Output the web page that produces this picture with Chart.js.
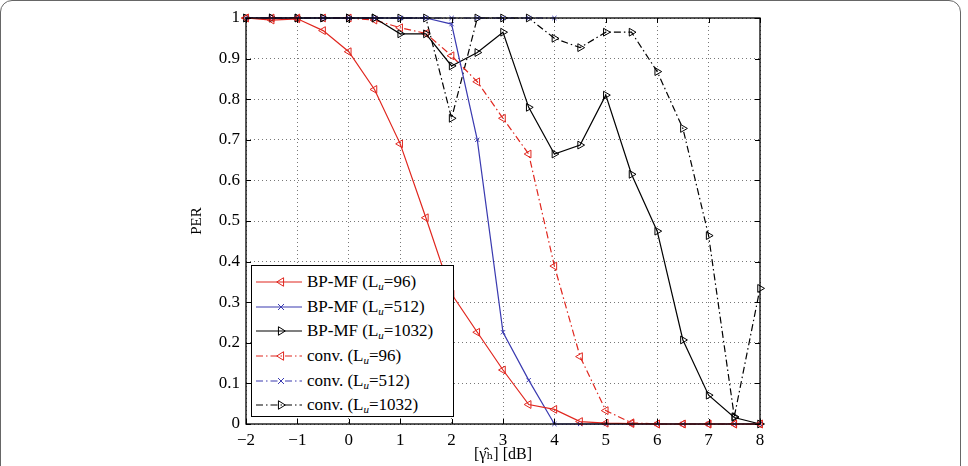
<!DOCTYPE html>
<html>
<head>
<meta charset="utf-8">
<script src="https://cdn.jsdelivr.net/npm/chart.js@4/dist/chart.umd.min.js"></script>
<style>
  html, body { margin: 0; padding: 0; background: #fff; overflow: hidden; }
  #wrap { position: relative; width: 968px; height: 466px; }
  #frame { position: absolute; left: 0; top: 0; width: 961px; height: 520px; border: 1.5px solid #666; border-radius: 12px; box-sizing: border-box; pointer-events: none; }
  #legend { position: absolute; left: 251px; top: 265px; width: 203px; height: 152px; box-sizing: border-box; border: 1px solid #000; background: #fff; padding-top: 4px; font-family: "Liberation Serif", "DejaVu Serif", serif; font-size: 17px; color: #000; }
  .row { height: 24.6px; display: flex; align-items: center; white-space: nowrap; }
  .row svg { width: 50px; height: 14px; margin-left: 2px; flex: none; }
  .row span { margin-left: 3px; }
  sub { font-size: 11px; font-style: italic; vertical-align: -3px; line-height: 0; }
</style>
</head>
<body>
<div id="wrap">
  <canvas id="c" width="968" height="466"></canvas>
  <div id="legend"></div>
  <div id="frame"></div>
</div>
<script>
// ----- data -----
const xValues = [-2,-1.5,-1,-0.5,0,0.5,1,1.5,2,2.5,3,3.5,4,4.5,5,5.5,6,6.5,7,7.5,8];
const bpmf96   = [1,0.995,0.998,0.969,0.917,0.824,0.690,0.508,0.320,0.226,0.133,0.048,0.036,0.006,0.002,0.001,0,0,0,0,0];
const bpmf512  = [1,1,1,1,1,1,1,1,0.985,0.700,0.226,0.108,0,0,0,0,0,0,0,0,0];
const bpmf1032 = [1,1,1,1,1,1,0.961,0.961,0.882,0.915,0.965,0.780,0.665,0.687,0.810,0.615,0.475,0.207,0.071,0.016,0];
const conv96   = [1,1,1,1,1,0.995,0.976,0.962,0.907,0.843,0.753,0.665,0.389,0.166,0.033,0.003,0,0,0,0,0];
const conv512  = [1,1,1,1,1,1,1,1,1,1,1,1,1,null,null,null,null,null,null,null,null];
const conv1032 = [1,1,1,1,1,1,1,1,0.753,1,1,1,0.950,0.927,0.965,0.965,0.868,0.728,0.464,0.018,0.334];
const seriesLabels = ["BP-MF (L<sub>u</sub>=96)","BP-MF (L<sub>u</sub>=512)","BP-MF (L<sub>u</sub>=1032)",
                      "conv. (L<sub>u</sub>=96)","conv. (L<sub>u</sub>=512)","conv. (L<sub>u</sub>=1032)"];
const xTicks = [-2,-1,0,1,2,3,4,5,6,7,8];
const yTicks = [0,0.1,0.2,0.3,0.4,0.5,0.6,0.7,0.8,0.9,1];

const RED = '#e0261e', BLUE = '#3a3ab0', BLACK = '#000';
const DASHDOT = [7,3,1.5,3];
const FONT = '"Liberation Serif", "DejaVu Serif", serif';

function pts(arr) { return xValues.map((x,i) => ({x: x, y: arr[i]})); }
function ds(label, arr, color, style, rot, dash, r) {
  return { label, data: pts(arr), borderColor: color, pointBorderColor: color,
    pointBackgroundColor: 'rgba(0,0,0,0)', borderWidth: 1.2, pointBorderWidth: 1,
    pointStyle: style, pointRotation: rot, pointRadius: r, borderDash: dash,
    tension: 0, spanGaps: false, clip: false, fill: false };
}
const datasets = [
  ds(seriesLabels[0], bpmf96, RED, 'triangle', -90, [], 4.5),
  ds(seriesLabels[1], bpmf512, BLUE, 'crossRot', 0, [], 3),
  ds(seriesLabels[2], bpmf1032, BLACK, 'triangle', 90, [], 4.5),
  ds(seriesLabels[3], conv96, RED, 'triangle', -90, DASHDOT, 4.5),
  ds(seriesLabels[4], conv512, BLUE, 'crossRot', 0, DASHDOT, 3),
  ds(seriesLabels[5], conv1032, BLACK, 'triangle', 90, DASHDOT, 4.5)
];

const boxPlugin = {
  id: 'box',
  afterDatasetsDraw(chart) {
    const {ctx, chartArea: a, scales} = chart;
    ctx.save();
    ctx.strokeStyle = '#000'; ctx.lineWidth = 1.3; ctx.setLineDash([]);
    ctx.strokeRect(a.left, a.top, a.right - a.left, a.bottom - a.top);
    ctx.lineWidth = 1;
    ctx.beginPath();
    xTicks.forEach(t => { const px = Math.round(scales.x.getPixelForValue(t)) + 0.5;
      ctx.moveTo(px, a.bottom); ctx.lineTo(px, a.bottom - 5);
      ctx.moveTo(px, a.top); ctx.lineTo(px, a.top + 5); });
    yTicks.forEach(t => { const py = Math.round(scales.y.getPixelForValue(t)) + 0.5;
      ctx.moveTo(a.left, py); ctx.lineTo(a.left + 5, py);
      ctx.moveTo(a.right, py); ctx.lineTo(a.right - 5, py); });
    ctx.stroke();
    ctx.restore();
  }
};

new Chart(document.getElementById('c'), {
  type: 'line',
  data: { datasets },
  options: {
    responsive: false, animation: false, events: [],
    layout: { padding: { left: 188, top: 18, right: 208, bottom: 0 } },
    plugins: { legend: { display: false }, tooltip: { enabled: false } },
    scales: {
      x: { type: 'linear', min: -2, max: 8,
        afterFit(s) { s.height = 42; },
        afterBuildTicks(s) { s.ticks = xTicks.map(v => ({value: v})); },
        ticks: { padding: 6, color: '#000', font: { family: FONT, size: 17 },
          callback: v => String(v).replace('-', '\u2212') },
        grid: { color: '#555', drawTicks: false, lineWidth: 0.8 },
        border: { display: false, dash: [1, 3] },
        title: { display: true, text: '[\u03B3\u0302\u2095] [dB]', color: '#000',
          font: { family: FONT, size: 16 }, padding: { top: 0, bottom: 2 } } },
      y: { type: 'linear', min: 0, max: 1,
        afterFit(s) { s.width = 58; },
        afterBuildTicks(s) { s.ticks = yTicks.map(v => ({value: v})); },
        ticks: { padding: 6, color: '#000', font: { family: FONT, size: 17 },
          callback: v => String(Math.round(v * 10) / 10) },
        grid: { color: '#555', drawTicks: false, lineWidth: 0.8 },
        border: { display: false, dash: [1, 3] },
        title: { display: true, text: 'PER', color: '#000',
          font: { family: FONT, size: 15 }, padding: { top: 0, bottom: 0 } } }
    }
  },
  plugins: [boxPlugin]
});

// ----- legend built from the datasets -----
function markerSvg(d, cx, cy) {
  const r = d.pointRadius, c = d.borderColor;
  if (d.pointStyle === 'crossRot') {
    return `<path d="M${cx-r} ${cy-r}L${cx+r} ${cy+r}M${cx-r} ${cy+r}L${cx+r} ${cy-r}" stroke="${c}" stroke-width="1"/>`;
  }
  const left = d.pointRotation < 0;
  const s = r * 0.95;
  const p = left ? `${cx-s},${cy} ${cx+s*0.6},${cy-s} ${cx+s*0.6},${cy+s}`
                 : `${cx+s},${cy} ${cx-s*0.6},${cy-s} ${cx-s*0.6},${cy+s}`;
  return `<polygon points="${p}" fill="none" stroke="${c}" stroke-width="1"/>`;
}
const leg = document.getElementById('legend');
leg.innerHTML = datasets.map(d => {
  const dash = d.borderDash.length ? `stroke-dasharray="${d.borderDash.join(' ')}"` : '';
  return `<div class="row"><svg viewBox="0 0 50 14"><line x1="2" y1="7" x2="48" y2="7" stroke="${d.borderColor}" stroke-width="1.2" ${dash}/>${markerSvg(d, 27, 7)}</svg><span>${d.label}</span></div>`;
}).join('');
</script>
</body>
</html>
